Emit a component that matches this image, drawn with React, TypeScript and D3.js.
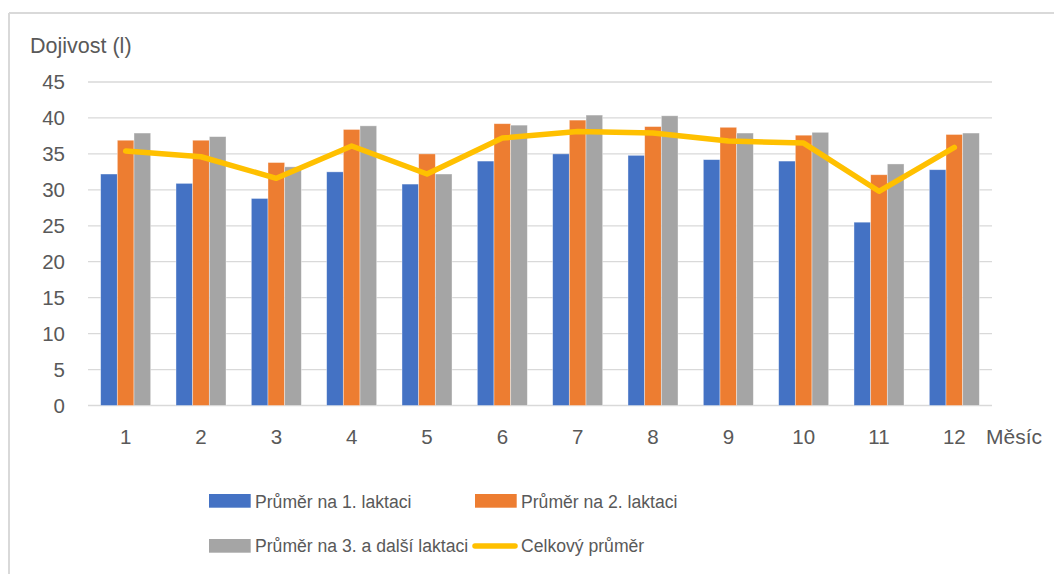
import React from "react";
import * as d3 from "d3";

const categories = ["1", "2", "3", "4", "5", "6", "7", "8", "9", "10", "11", "12"];
const lactation1 = [32.2, 30.9, 28.8, 32.5, 30.8, 34.0, 35.0, 34.8, 34.2, 34.0, 25.5, 32.8];
const lactation2 = [36.9, 36.9, 33.8, 38.4, 35.0, 39.2, 39.7, 38.8, 38.7, 37.6, 32.1, 37.7];
const lactation3 = [37.9, 37.4, 33.2, 38.9, 32.2, 39.0, 40.4, 40.3, 37.9, 38.0, 33.6, 37.9];
const overall = [35.4, 34.6, 31.6, 36.1, 32.2, 37.2, 38.1, 37.9, 36.8, 36.5, 29.8, 35.9];
const yTicks = [0, 5, 10, 15, 20, 25, 30, 35, 40, 45];
const seriesNames = ["Průměr na 1. laktaci", "Průměr na 2. laktaci", "Průměr na 3. a další laktaci"];
const lineName = "Celkový průměr";
const colors = ["#4472C4", "#ED7D31", "#A5A5A5"];
const lineColor = "#FFC000";

const W = 1054;
const H = 574;
const FONT = "'Liberation Sans', Arial, sans-serif";
const TEXT = "#595959";

export default function App() {
  const x = d3.scaleBand<string>().domain(categories).range([88, 992]).padding(0);
  const y = d3.scaleLinear().domain([0, 45]).range([405.5, 82]);
  const groupW = x.step() * 0.664;
  const inner = d3.scaleBand<number>().domain([0, 1, 2]).range([0, groupW]).padding(0);
  const series = [lactation1, lactation2, lactation3];
  const cx = (c: string) => (x(c) as number) + x.bandwidth() / 2;
  const line = d3
    .line<number>()
    .x((_, i) => cx(categories[i]))
    .y((d) => y(d));

  return (
    <svg
      width={W}
      height={H}
      style={{ position: "absolute", left: 0, top: 0, background: "#fff" }}
      fontFamily={FONT}
    >
      <rect x={0} y={0} width={W} height={H} fill="#fff" />
      {/* chart border (left + top) */}
      <line x1={9} y1={13} x2={W} y2={13} stroke="#d9d9d9" strokeWidth={2} />
      <line x1={9} y1={13} x2={9} y2={H} stroke="#d9d9d9" strokeWidth={2} />

      {/* gridlines */}
      {yTicks.map((t) => (
        <line
          key={t}
          x1={88}
          x2={992}
          y1={y(t)}
          y2={y(t)}
          stroke="#d9d9d9"
          strokeWidth={1.3}
        />
      ))}
      {/* y tick labels */}
      {yTicks.map((t) => (
        <text
          key={"l" + t}
          x={65}
          y={y(t)}
          dy="0.36em"
          textAnchor="end"
          fontSize={20.5}
          fill={TEXT}
        >
          {t}
        </text>
      ))}
      <text x={30} y={52.5} fontSize={21.5} fill={TEXT}>
        Dojivost (l)
      </text>

      {/* bars */}
      {series.map((s, si) =>
        s.map((v, i) => {
          const c = categories[i];
          const bx = cx(c) - groupW / 2 + (inner(si) as number);
          return (
            <rect
              key={si + "-" + i}
              x={bx}
              y={y(v)}
              width={inner.bandwidth()}
              height={y(0) - y(v)}
              fill={colors[si]}
              stroke="#ffffff"
              strokeOpacity={0.5}
              strokeWidth={0.75}
            />
          );
        })
      )}

      {/* line */}
      <path
        d={line(overall) || ""}
        fill="none"
        stroke={lineColor}
        strokeWidth={5.5}
        strokeLinejoin="round"
        strokeLinecap="round"
      />

      {/* x labels */}
      {categories.map((c) => (
        <text
          key={"x" + c}
          x={cx(c)}
          y={444}
          textAnchor="middle"
          fontSize={20.5}
          fill={TEXT}
        >
          {c}
        </text>
      ))}
      <text x={986} y={443.5} fontSize={21} fill={TEXT}>
        Měsíc
      </text>

      {/* legend */}
      <rect x={209} y={494} width={41.7} height={13.7} fill={colors[0]} />
      <text x={255} y={508.3} fontSize={17.6} fill={TEXT}>
        {seriesNames[0]}
      </text>
      <rect x={475} y={494} width={41.7} height={13.7} fill={colors[1]} />
      <text x={521} y={508.3} fontSize={17.6} fill={TEXT}>
        {seriesNames[1]}
      </text>
      <rect x={209} y={539} width={41.7} height={13.7} fill={colors[2]} />
      <text x={255} y={552.3} fontSize={17.6} fill={TEXT}>
        {seriesNames[2]}
      </text>
      <line
        x1={475}
        x2={515}
        y1={546}
        y2={546}
        stroke={lineColor}
        strokeWidth={5.5}
        strokeLinecap="round"
      />
      <text x={521} y={552.3} fontSize={17.6} fill={TEXT}>
        {lineName}
      </text>
    </svg>
  );
}
